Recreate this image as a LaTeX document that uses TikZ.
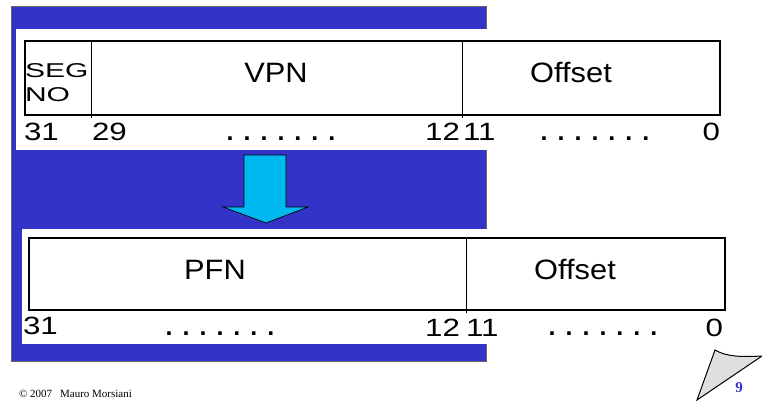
\documentclass[tikz,border=0pt]{standalone}
\usepackage{fontspec}
\setmainfont{Liberation Sans}
\newfontfamily\footfont{Liberation Serif}
\definecolor{slideblue}{RGB}{51,51,200}
\definecolor{arrowcyan}{RGB}{0,184,240}
\newcommand{\bitdots}{.\hspace{10pt}.\hspace{10pt}.\hspace{10pt}.\hspace{10pt}.\hspace{10pt}.\hspace{10pt}.}
\begin{document}
\begin{tikzpicture}[x=1pt,y=-1pt,outer sep=0,inner sep=0,
		field/.style={font=\fontsize{28}{30}\selectfont,anchor=base,xscale=1.1},
		segtext/.style={font=\fontsize{20}{21}\selectfont,anchor=base west,xscale=1.5},
		bitnum/.style={font=\fontsize{25}{27}\selectfont,xscale=1.25},
		bitdots/.style={font=\bfseries\fontsize{25}{27}\selectfont,anchor=base},
		regbox/.style={line width=1.5pt}]
		\useasboundingbox (0,0) rectangle (762,400);
		\filldraw[fill=slideblue,draw=black!60,line width=0.8pt] (11,6) rectangle (486,361);
		\fill[white] (16,29) rectangle (737,150);
		\fill[white] (22,229) rectangle (735,344);
		\begin{scope}
		\draw[regbox] (25,41) rectangle (720,115);
		\draw[line width=1pt] (91,41) -- (91,118);
		\draw[line width=1pt] (462,41) -- (462,118);
		\node[segtext] (seg) at (25,77) {SEG};
		\node[segtext] (segno) at (25,101) {NO};
		\node[field] (vpn) at (276,82) {VPN};
		\node[field] (voff) at (571,82) {Offset};
		\node[bitnum,anchor=base west] (v31) at (24,140) {31};
		\node[bitnum,anchor=base west] (v29) at (92,140) {29};
		\node[bitdots] (vdotsa) at (281,140) {\bitdots};
		\node[bitnum,anchor=base east] (v12) at (460,140) {12};
		\node[bitnum,anchor=base west] (v11) at (463,140) {11};
		\node[bitdots] (vdotsb) at (595,140) {\bitdots};
		\node[bitnum,anchor=base east] (v0) at (720,140) {0};
		\end{scope}
		\filldraw[fill=arrowcyan,draw=black,line width=0.7pt] (244,155) -- (286,155) -- (286,207) -- (308,207)
			-- (266,223) -- (223,207) -- (244,207) -- cycle;
		\begin{scope}
		\draw[regbox] (29,238) rectangle (725,310);
		\draw[line width=1pt] (466,238) -- (466,313);
		\node[field] (pfn) at (215,279) {PFN};
		\node[field] (poff) at (575,279) {Offset};
		\node[bitnum,anchor=base west] (p31) at (23,334) {31};
		\node[bitdots] (pdotsa) at (220,335) {\bitdots};
		\node[bitnum,anchor=base east] (p12) at (460,336) {12};
		\node[bitnum,anchor=base west] (p11) at (466,336) {11};
		\node[bitdots] (pdotsb) at (603,335) {\bitdots};
		\node[bitnum,anchor=base east] (p0) at (723,336) {0};
		\end{scope}
		\filldraw[fill=gray!25,draw=black,line width=1pt] (697,400) -- (715,350)
			.. controls (727,357) and (742,357) .. (762,356) -- cycle;
		\node[text=slideblue,font=\footfont\bfseries\fontsize{15}{16}\selectfont] (pagenum) at (739,388) {9};
		\node[font=\footfont\fontsize{11}{12}\selectfont,anchor=base west] (credit) at (19,397) {© 2007\hspace{8pt}Mauro Morsiani};
\end{tikzpicture}
\end{document}
